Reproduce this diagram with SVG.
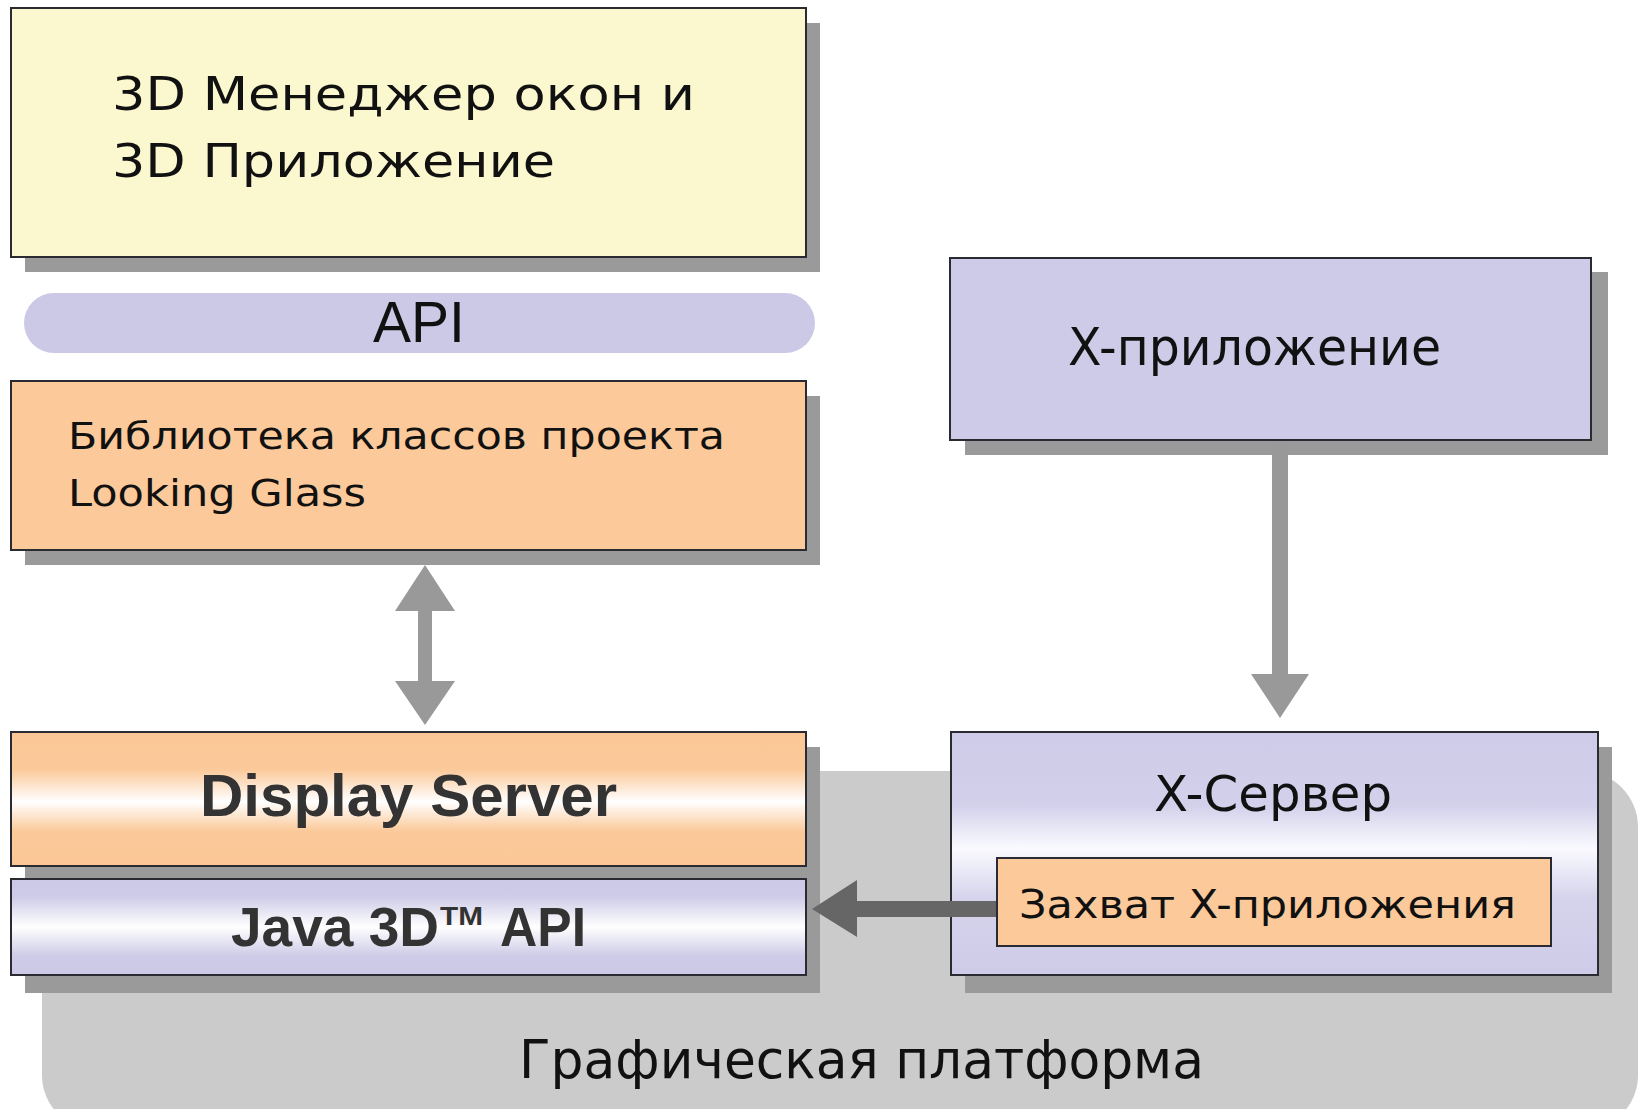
<svg xmlns="http://www.w3.org/2000/svg" width="1641" height="1109" viewBox="0 0 1641 1109">
<style>
.box{stroke:#2a2a33;stroke-width:2}
.shadow{fill:#9a9a9a}
.t{font-family:"DejaVu Sans","Liberation Sans",sans-serif;fill:#111}
.b{font-family:"Liberation Sans",Arial,sans-serif;font-weight:bold;fill:#333}
.a{font-family:"Liberation Sans",Arial,sans-serif;fill:#111}
</style>
<defs>
<linearGradient id="gOrange" x1="0" y1="0" x2="0" y2="1">
<stop offset="0" stop-color="#fbc796"/>
<stop offset="0.28" stop-color="#fbc99a"/>
<stop offset="0.52" stop-color="#ffffff"/>
<stop offset="0.74" stop-color="#fbc99a"/>
<stop offset="1" stop-color="#fbc796"/>
</linearGradient>
<linearGradient id="gLav" x1="0" y1="0" x2="0" y2="1">
<stop offset="0" stop-color="#cbc9e6"/>
<stop offset="0.18" stop-color="#cdcbe7"/>
<stop offset="0.5" stop-color="#ffffff"/>
<stop offset="0.8" stop-color="#cdcbe7"/>
<stop offset="1" stop-color="#cbc9e6"/>
</linearGradient>
<linearGradient id="gXs" x1="0" y1="0" x2="0" y2="1">
<stop offset="0" stop-color="#cdcbe7"/>
<stop offset="0.3" stop-color="#d2d0ea"/>
<stop offset="0.48" stop-color="#fafaff"/>
<stop offset="0.68" stop-color="#d6d4ec"/>
<stop offset="1" stop-color="#cdcbe7"/>
</linearGradient>
</defs>

<g id="platform">
<rect x="42" y="771" width="1596" height="360" rx="56" fill="#cbcbcb"/>
<text class="t" x="519" y="1078" font-size="53" textLength="685" lengthAdjust="spacingAndGlyphs">Графическая платформа</text>
</g>

<g id="wm3d">
<rect class="shadow" x="25" y="23" width="795" height="249"/>
<rect class="box" x="11" y="8" width="795" height="249" fill="#fbf8cf"/>
<text class="t" x="112" y="110" font-size="46" textLength="583" lengthAdjust="spacingAndGlyphs">3D Менеджер окон и</text>
<text class="t" x="112" y="177" font-size="46" textLength="443" lengthAdjust="spacingAndGlyphs">3D Приложение</text>
</g>

<g id="api">
<rect x="24" y="293" width="791" height="60" rx="30" fill="#cbc9e6"/>
<text class="a" x="419" y="342" font-size="57" text-anchor="middle">API</text>
</g>

<g id="lglib">
<rect class="shadow" x="25" y="396" width="795" height="169"/>
<rect class="box" x="11" y="381" width="795" height="169" fill="#fbc99a"/>
<text class="t" x="68" y="449" font-size="38" textLength="657" lengthAdjust="spacingAndGlyphs">Библиотека классов проекта</text>
<text class="t" x="68" y="506" font-size="38" textLength="298" lengthAdjust="spacingAndGlyphs">Looking Glass</text>
</g>

<g id="displayserver">
<rect class="shadow" x="25" y="747" width="795" height="246"/>
<rect class="box" x="11" y="732" width="795" height="134" fill="url(#gOrange)"/>
<text class="b" x="200" y="816" font-size="59" textLength="417" lengthAdjust="spacingAndGlyphs">Display Server</text>
</g>

<g id="java3d">
<rect class="box" x="11" y="879" width="795" height="96" fill="url(#gLav)"/>
<text class="b" x="231" y="946" font-size="56" textLength="208" lengthAdjust="spacingAndGlyphs">Java 3D</text>
<text class="b" x="440" y="925" font-size="25" textLength="43" lengthAdjust="spacingAndGlyphs">TM</text>
<text class="b" x="500" y="946" font-size="56" textLength="86" lengthAdjust="spacingAndGlyphs">API</text>
</g>

<g id="xapp">
<rect class="shadow" x="965" y="272" width="643" height="183"/>
<rect class="box" x="950" y="258" width="641" height="182" fill="#cdcbe7"/>
<text class="t" x="1068" y="365" font-size="51" textLength="373" lengthAdjust="spacingAndGlyphs">X-приложение</text>
</g>

<g id="xserver">
<rect class="shadow" x="965" y="747" width="647" height="246"/>
<rect class="box" x="951" y="732" width="647" height="243" fill="url(#gXs)"/>
<text class="t" x="1154" y="811" font-size="49" textLength="238" lengthAdjust="spacingAndGlyphs">X-Сервер</text>
</g>

<g id="xcapture">
<rect class="box" x="997" y="858" width="554" height="88" fill="#fbc99a"/>
<text class="t" x="1019" y="918" font-size="39" textLength="497" lengthAdjust="spacingAndGlyphs">Захват X-приложения</text>
</g>

<g id="connectors">
<polygon fill="#999999" points="425,565 455,611 432,611 432,681 455,681 425,725 395,681 418,681 418,611 395,611"/>
<polygon fill="#999999" points="1272,441 1288,441 1288,674 1309,674 1280,718 1251,674 1272,674"/>
<polygon fill="#666666" points="996,901 857,901 857,880 812,909 857,937 857,917 996,917"/>
</g>
</svg>
